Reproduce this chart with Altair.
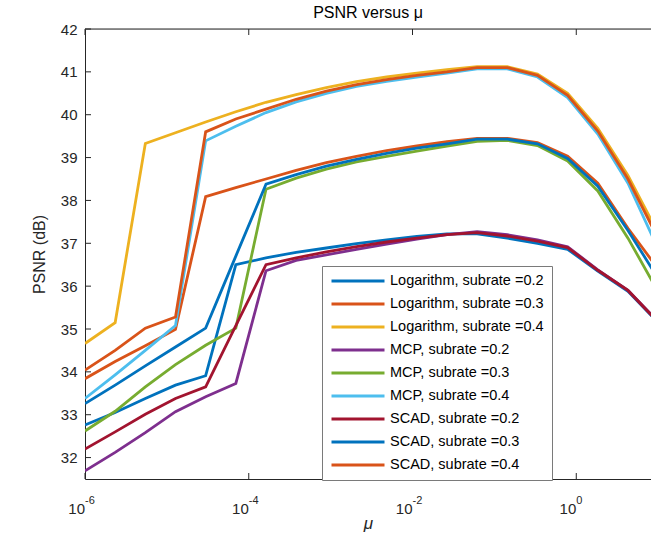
import altair as alt
import pandas as pd

# x grid (mu values)
mu = [1.0e-6, 2.336e-6, 5.456e-6, 1.274e-5, 2.976e-5, 6.952e-5, 1.624e-4, 3.793e-4,
      8.859e-4, 2.069e-3, 4.833e-3, 1.129e-2, 2.637e-2, 6.158e-2, 1.438e-1, 3.360e-1,
      7.848e-1, 1.833, 4.281, 10.0]

log_02 = [32.76, 33.05, 33.38, 33.69, 33.91, 36.50, 36.66, 36.79, 36.89, 36.99, 37.08, 37.16, 37.22, 37.22, 37.12, 37.00, 36.86, 36.35, 35.88, 35.15]
log_03 = [33.84, 34.24, 34.61, 34.99, 38.09, 38.30, 38.50, 38.70, 38.88, 39.03, 39.16, 39.27, 39.37, 39.45, 39.45, 39.35, 39.03, 38.40, 37.35, 36.40]
log_04 = [34.66, 35.15, 39.33, 39.58, 39.83, 40.07, 40.29, 40.47, 40.63, 40.77, 40.88, 40.97, 41.05, 41.12, 41.12, 40.95, 40.50, 39.68, 38.58, 37.24]
mcp_02 = [31.69, 32.12, 32.58, 33.07, 33.42, 33.73, 36.36, 36.60, 36.73, 36.86, 36.98, 37.10, 37.20, 37.27, 37.20, 37.08, 36.92, 36.38, 35.90, 35.17]
mcp_03 = [32.62, 33.08, 33.65, 34.17, 34.62, 35.02, 38.26, 38.52, 38.73, 38.90, 39.03, 39.15, 39.27, 39.38, 39.40, 39.28, 38.92, 38.22, 37.12, 35.87]
mcp_04 = [33.38, 33.93, 34.50, 35.08, 39.39, 39.73, 40.05, 40.30, 40.50, 40.66, 40.78, 40.88, 40.97, 41.07, 41.07, 40.88, 40.40, 39.55, 38.40, 36.87]
scad_02 = [32.20, 32.60, 33.01, 33.38, 33.65, 35.08, 36.50, 36.66, 36.80, 36.92, 37.03, 37.12, 37.20, 37.25, 37.17, 37.05, 36.90, 36.37, 35.90, 35.16]
scad_03 = [33.26, 33.69, 34.14, 34.58, 35.02, 36.70, 38.38, 38.60, 38.80, 38.96, 39.10, 39.22, 39.32, 39.43, 39.43, 39.32, 38.98, 38.33, 37.30, 36.18]
scad_04 = [34.04, 34.50, 35.02, 35.28, 39.60, 39.90, 40.13, 40.36, 40.55, 40.70, 40.82, 40.92, 41.00, 41.10, 41.10, 40.92, 40.45, 39.62, 38.50, 37.11]

series_names = ["Logarithm, subrate =0.2", "Logarithm, subrate =0.3", "Logarithm, subrate =0.4",
                "MCP, subrate =0.2", "MCP, subrate =0.3", "MCP, subrate =0.4",
                "SCAD, subrate =0.2", "SCAD, subrate =0.3", "SCAD, subrate =0.4"]
series_values = [log_02, log_03, log_04, mcp_02, mcp_03, mcp_04, scad_02, scad_03, scad_04]
series_colors = ["#0072BD", "#D95319", "#EDB120", "#7E2F8E", "#77AC30", "#4DBEEE",
                 "#A2142F", "#0072BD", "#D95319"]

x_tick_values = [1e-6, 1e-4, 1e-2, 1.0]
x_tick_base = ["10", "10", "10", "10"]
x_tick_exponents = ["-6", "-4", "-2", "0"]
y_tick_values = [32, 33, 34, 35, 36, 37, 38, 39, 40, 41, 42]

rows = []
for i, (name, vals) in enumerate(zip(series_names, series_values)):
    for x, y in zip(mu, vals):
        rows.append({"mu": x, "psnr": y, "series": name, "idx": i})
df = pd.DataFrame(rows)

W, H = 566, 450
FONT = "Liberation Sans"
AX = "#262626"

xscale = alt.Scale(type="log", domain=[1e-6, 8.18], nice=False)
yscale = alt.Scale(domain=[31.5, 42], nice=False, zero=False)

lines = alt.Chart(df).mark_line(strokeWidth=2.8, clip=True).encode(
    x=alt.X("mu:Q", scale=xscale,
            axis=alt.Axis(values=x_tick_values, labels=False, title="μ",
                          titleFontStyle="italic", titleFontSize=17, titleFontWeight="normal",
                          titleColor=AX, titleFont=FONT, titleY=36, titleBaseline="top",
                          ticks=False, domainColor=AX, grid=False)),
    y=alt.Y("psnr:Q", scale=yscale,
            axis=alt.Axis(values=y_tick_values, title="PSNR (dB)", titleFontSize=16,
                          titleFontWeight="normal", titleColor=AX, titlePadding=13,
                          labelFontSize=15, labelColor=AX, labelFont=FONT, titleFont=FONT,
                          ticks=False, labelPadding=8, domainColor=AX, grid=False)),
    color=alt.Color("series:N", sort=series_names,
                    scale=alt.Scale(domain=series_names, range=series_colors),
                    legend=alt.Legend(title=None, orient="none", legendX=237, legendY=237,
                                      symbolType="stroke", symbolSize=2809, symbolStrokeWidth=3,
                                      clipHeight=14, rowPadding=8, padding=8,
                                      labelFontSize=14.5, labelFont=FONT, labelColor="#000000",
                                      labelOffset=4, labelLimit=300,
                                      strokeColor="#7a7a7a", fillColor="white",
                                      cornerRadius=0)),
    order=alt.Order("idx:Q"),
    detail="idx:N",
)

xt = pd.DataFrame({"mu": x_tick_values, "base": x_tick_base, "exp": x_tick_exponents})
yt = pd.DataFrame({"psnr": y_tick_values})

bottom_ticks = alt.Chart(xt).mark_rule(color=AX, strokeWidth=1).encode(
    x=alt.X("mu:Q", scale=xscale), y=alt.value(H), y2=alt.value(H - 6))
top_ticks = alt.Chart(xt).mark_rule(color=AX, strokeWidth=1).encode(
    x=alt.X("mu:Q", scale=xscale), y=alt.value(0), y2=alt.value(6))
left_ticks = alt.Chart(yt).mark_rule(color=AX, strokeWidth=1).encode(
    y=alt.Y("psnr:Q", scale=yscale), x=alt.value(0), x2=alt.value(6))
top_border = alt.Chart(pd.DataFrame({"k": [0]})).mark_rule(color=AX, strokeWidth=1).encode(
    x=alt.value(0), x2=alt.value(W), y=alt.value(0))

base_labels = alt.Chart(xt).mark_text(
    align="right", baseline="alphabetic", fontSize=15, font=FONT, color=AX, dx=0
).encode(x=alt.X("mu:Q", scale=xscale), y=alt.value(H + 35), text="base:N")
exp_labels = alt.Chart(xt).mark_text(
    align="left", baseline="alphabetic", fontSize=11, font=FONT, color=AX, dx=0
).encode(x=alt.X("mu:Q", scale=xscale), y=alt.value(H + 25), text="exp:N")

chart = alt.layer(lines, bottom_ticks, top_ticks, left_ticks, top_border,
                  base_labels, exp_labels).properties(
    width=W, height=H,
    title=alt.TitleParams("PSNR versus μ", fontSize=16, font=FONT, fontWeight="normal",
                          color="#000000", anchor="middle", offset=1),
    autosize=alt.AutoSizeParams(type="none"),
    padding={"left": 85, "top": 29, "right": 0, "bottom": 67},
).configure_view(stroke=None).configure(background="white")

chart.save("out.html", embed_options={"renderer": "svg", "actions": False})
